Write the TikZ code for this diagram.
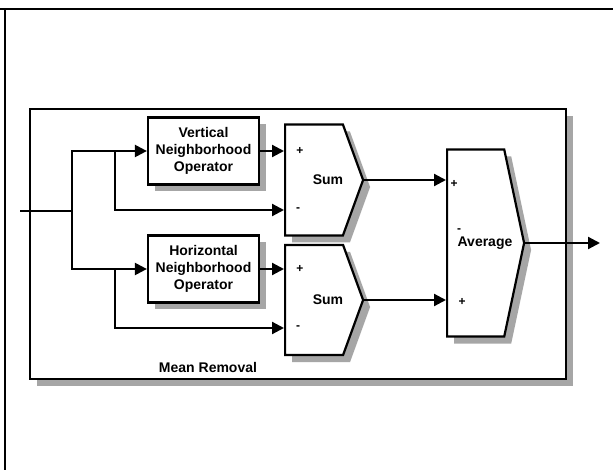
\documentclass[tikz,border=0pt]{standalone}
\usepackage{fontspec}
\setmainfont{Liberation Sans}
\usetikzlibrary{arrows.meta,positioning,calc,shapes.symbols,shadows}

\begin{document}
\begin{tikzpicture}[x=1pt,y=-1pt,>={Triangle[length=12pt,width=12pt]},line width=2.2pt,font=\fontsize{14}{17}\selectfont\bfseries]
\tikzstyle{shd}=[drop shadow={shadow xshift=7pt,shadow yshift=-7pt,fill=black!35,opacity=1}]
\tikzstyle{op}=[draw,fill=white,shd,align=center,minimum width=111pt,minimum height=67pt,inner sep=0pt]
\tikzstyle{sig}=[signal,draw,fill=white,shd,inner sep=0pt,anchor=west]
\tikzstyle{pm}=[font=\fontsize{12}{12}\selectfont\bfseries,inner sep=0pt]
\useasboundingbox (0,0) rectangle (613,470);
\draw (0,9) -- (613,9);
\draw (5,9) -- (5,470);
\node[draw,fill=white,shd,minimum width=536pt,minimum height=270pt,inner sep=0pt] (mr) at (298,244) {};
\node (lbl) at (208,367) {Mean Removal};
\node[op] (vop) at (203.5,151) {Vertical\\Neighborhood\\Operator};
\node[op] (hop) at (203.5,269) {Horizontal\\Neighborhood\\Operator};
\node[sig,minimum width=78pt,minimum height=111pt,signal pointer angle=140] (sum1) at (284,180) {};
\node[sig,minimum width=78pt,minimum height=110pt,signal pointer angle=140] (sum2) at (284,300) {};
\node[sig,minimum width=77pt,minimum height=187pt,signal pointer angle=156] (avg) at (446,243) {};
\node (t1) at (328,180) {Sum};
\node (t2) at (328,300) {Sum};
\node (t3) at (485,243) {Average};
\node[pm] (p1) at (300,151) {+};
\node[pm] (m1) at (298,210) {-};
\node[pm] (p2) at (300,269) {+};
\node[pm] (m2) at (298,328) {-};
\node[pm] (p3) at (454,184) {+};
\node[pm] (m3) at (459,231) {-};
\node[pm] (p4) at (462,302) {+};
\coordinate (in) at (20,211);
\coordinate (split) at (72,211);
\coordinate (vtap) at (115,151);
\coordinate (htap) at (115,269);
\coordinate (out) at (600,243);
\draw (in) -- (split);
\draw[->] (split) |- (vop.west);
\draw[->] (split) |- (hop.west);
\draw[->] (vtap) |- ([yshift=-30pt]sum1.west);
\draw[->] (htap) |- ([yshift=-28pt]sum2.west);
\draw[->] (vop.east) -- (vop.east -| sum1.west);
\draw[->] (hop.east) -- (hop.east -| sum2.west);
\draw[->] (sum1.east) -- (sum1.east -| avg.west);
\draw[->] (sum2.east) -- (sum2.east -| avg.west);
\draw[->] (avg.east) -- (out);
\end{tikzpicture}
\end{document}
